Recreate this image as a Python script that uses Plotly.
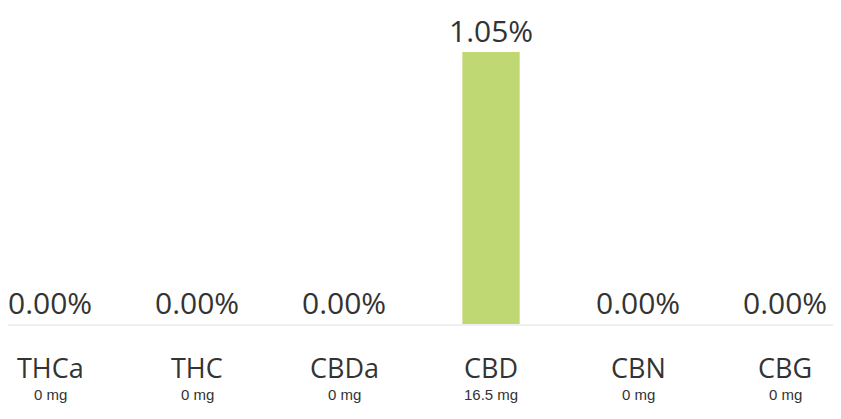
import plotly.graph_objects as go

categories = ["THCa", "THC", "CBDa", "CBD", "CBN", "CBG"]
percent_values = [0.00, 0.00, 0.00, 1.05, 0.00, 0.00]
mg_labels = ["0 mg", "0 mg", "0 mg", "16.5 mg", "0 mg", "0 mg"]

BAR_COLOR = "#c0d874"
TEXT_COLOR = "#333333"
FONT = "Open Sans"

fig = go.Figure()
fig.add_trace(go.Bar(
    x=categories,
    y=percent_values,
    marker=dict(color=BAR_COLOR, line=dict(width=0)),
    width=0.39,
    hoverinfo="skip",
))

annotations = []
for c, v, mg in zip(categories, percent_values, mg_labels):
    annotations.append(dict(
        x=c, y=v, xref="x", yref="y", text=f"{v:.2f}%",
        showarrow=False, yanchor="bottom", yshift=0, borderpad=0,
        font=dict(family=FONT, size=30, color=TEXT_COLOR),
    ))
    annotations.append(dict(
        x=c, y=0, xref="x", yref="y", text=c,
        showarrow=False, yanchor="middle", yshift=-43,
        font=dict(family=FONT, size=27, color=TEXT_COLOR),
    ))
    annotations.append(dict(
        x=c, y=0, xref="x", yref="y", text=mg,
        showarrow=False, yanchor="middle", yshift=-70,
        font=dict(family="Liberation Sans", size=15, color=TEXT_COLOR),
    ))

fig.update_layout(
    width=833, height=411,
    margin=dict(l=0, r=0, t=0, b=95, autoexpand=False),
    paper_bgcolor="white", plot_bgcolor="white",
    showlegend=False,
    annotations=annotations,
    xaxis=dict(range=[-0.286, 5.381], showticklabels=False, showgrid=False,
               zeroline=False, showline=True, linecolor="#efefef", linewidth=2,
               ticks="", fixedrange=True, automargin=False),
    yaxis=dict(range=[0, 1.220], visible=False, fixedrange=True, automargin=False),
)

fig.write_html("out.html")
